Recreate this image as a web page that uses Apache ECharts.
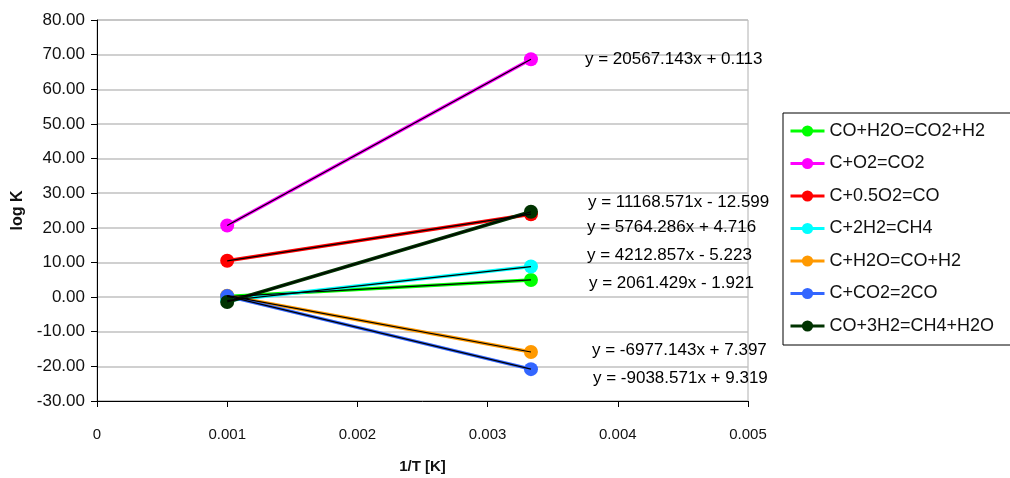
<!DOCTYPE html>
<html>
<head>
<meta charset="utf-8">
<script src="https://cdn.jsdelivr.net/npm/echarts@6/dist/echarts.min.js"></script>
<style>
  html, body { margin: 0; padding: 0; background: #fff; }
  #chart { width: 1010px; height: 478px; }
</style>
</head>
<body>
<div id="chart"></div>
<script>
// 1/T at 1000 K and 300 K
var invT = [0.001, 0.003333];

var names = [
  'CO+H2O=CO2+H2',
  'C+O2=CO2',
  'C+0.5O2=CO',
  'C+2H2=CH4',
  'C+H2O=CO+H2',
  'C+CO2=2CO',
  'CO+3H2=CH4+H2O'
];

// log K values at each 1/T
var shift = [0.14, 4.95];
var co2Form = [20.68, 68.67];
var coForm = [10.48, 23.93];
var ch4Form = [-1.01, 8.82];
var steam = [0.42, -15.86];
var boudouard = [0.28, -20.81];
var methanation = [-1.43, 24.63];

var trendText = [
  'y = 2061.429x - 1.921',
  'y = 20567.143x + 0.113',
  'y = 5764.286x + 4.716',
  'y = 4212.857x - 5.223',
  'y = -6977.143x + 7.397',
  'y = -9038.571x + 9.319',
  'y = 11168.571x - 12.599'
];

var allY = [shift, co2Form, coForm, ch4Form, steam, boudouard, methanation];
var colors = ['#00ff00', '#ff00ff', '#ff0000', '#00ffff', '#ff9900', '#3366ff', '#003300'];
// label nudges next to each line end
var labelOffset = [[50, 3], [46, 0], [48, 13], [48, -11], [53, -2], [54, 9], [49, -9]];

var font = 'Liberation Sans, Arial, sans-serif';

function pairs(ys) {
  return invT.map(function (x, i) { return [x, ys[i]]; });
}

var series = [];
allY.forEach(function (ys, i) {
  series.push({
    name: names[i],
    type: 'line',
    data: pairs(ys),
    symbol: 'circle',
    symbolSize: 14,
    color: colors[i],
    lineStyle: { width: 3.5, color: colors[i] },
    z: 2 + i
  });
});
// trendlines (black, on top)
allY.forEach(function (ys, i) {
  series.push({
    name: 'trend' + i,
    type: 'line',
    data: pairs(ys),
    symbol: 'none',
    lineStyle: { width: 1.2, color: '#000' },
    z: 20,
    silent: true,
    endLabel: {
      show: true,
      formatter: trendText[i],
      offset: labelOffset[i],
      color: '#000',
      fontFamily: font,
      fontSize: 17
    }
  });
});

var chart = echarts.init(document.getElementById('chart'));
chart.setOption({
  animation: false,
  backgroundColor: '#fff',
  grid: {
    left: 97, right: 262, top: 20, bottom: 77,
    outerBoundsMode: 'none',
    show: true, borderColor: '#b0b0b0', borderWidth: 1
  },
  legend: {
    data: names,
    orient: 'vertical',
    left: 783,
    top: 113,
    itemWidth: 34,
    itemHeight: 14,
    itemGap: 14.5,
    padding: [9, 20, 10, 6],
    borderColor: '#000',
    borderWidth: 1,
    lineStyle: { width: 3 },
    textStyle: { fontFamily: font, fontSize: 18, color: '#111' }
  },
  xAxis: {
    type: 'value',
    min: 0,
    max: 0.005,
    interval: 0.001,
    name: '1/T [K]',
    nameLocation: 'middle',
    nameGap: 58,
    nameTextStyle: { fontFamily: font, fontSize: 15, fontWeight: 'bold', color: '#111' },
    axisLine: { onZero: false, lineStyle: { color: '#000', width: 1 } },
    axisTick: { show: true, length: 6, lineStyle: { color: '#000' } },
    splitLine: { show: false },
    axisLabel: {
      fontFamily: font, fontSize: 15, color: '#111', margin: 26,
      formatter: function (v) { return v === 0 ? '0' : v.toFixed(3); }
    }
  },
  yAxis: {
    type: 'value',
    min: -30,
    max: 80,
    interval: 10,
    name: 'log K',
    nameLocation: 'middle',
    nameGap: 58,
    nameRotate: 90,
    nameTextStyle: { fontFamily: font, fontSize: 16, fontWeight: 'bold', color: '#111' },
    axisLine: { show: true, lineStyle: { color: '#000', width: 1 } },
    axisTick: { show: true, length: 6, lineStyle: { color: '#000' } },
    splitLine: { show: true, lineStyle: { color: '#c0c0c0', width: 1.5 } },
    axisLabel: {
      fontFamily: font, fontSize: 17, color: '#111', margin: 12,
      formatter: function (v) { return v.toFixed(2); }
    }
  },
  series: series
});
</script>
</body>
</html>
